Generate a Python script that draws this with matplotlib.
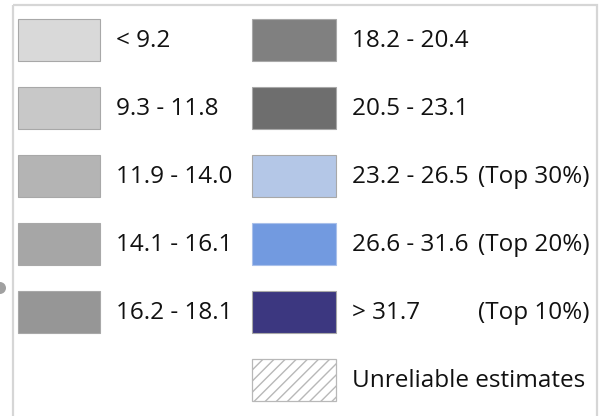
import matplotlib
matplotlib.use("Agg")
import matplotlib.pyplot as plt
from matplotlib.patches import Rectangle, Circle

# Legend data
left_labels = ["< 9.2", "9.3 - 11.8", "11.9 - 14.0", "14.1 - 16.1", "16.2 - 18.1"]
left_colors = ["#d9d9d9", "#c8c8c8", "#b4b4b4", "#a6a6a6", "#969696"]
right_labels = ["18.2 - 20.4", "20.5 - 23.1", "23.2 - 26.5", "26.6 - 31.6", "> 31.7"]
right_tags = ["", "", "(Top 30%)", "(Top 20%)", "(Top 10%)"]
right_colors = ["#808080", "#6e6e6e", "#b4c7e7", "#729ae0", "#3c3780"]
hatch_label = "Unreliable estimates"

W, H = 600, 416
fig = plt.figure(figsize=(W / 100, H / 100), dpi=100)
ax = fig.add_axes([0, 0, 1, 1])
ax.set_xlim(0, W)
ax.set_ylim(H, 0)
ax.axis("off")

FONT = "Open Sans"
FS = 17.5

# outer frame
ax.add_patch(Rectangle((13, 5), 584, 430, fill=False, edgecolor="#d6d6d6", lw=1.6, clip_on=True))
# small marker peeking at left edge
ax.add_patch(Circle((0, 288), 6, color="#a0a0a0", lw=0))

row0, step, sw_h = 19, 68, 42

def swatch(x, i, color, hatch=None):
    y = row0 + i * step
    if hatch:
        ax.add_patch(Rectangle((x, y), 84, sw_h, facecolor="white", edgecolor="#b8b8b8",
                               hatch=hatch, lw=0.9))
    else:
        ax.add_patch(Rectangle((x, y), 82 if x < 100 else 84, sw_h, facecolor=color,
                               edgecolor="#a8a8a8" if color != "#729ae0" else "#a9c0ea", lw=0.8))
    return y + sw_h / 2

for i, (lab, col) in enumerate(zip(left_labels, left_colors)):
    yc = swatch(18, i, col)
    ax.text(116, yc + 1, lab, fontsize=FS, family=FONT, va="center", ha="left", color="#111111")

for i, (lab, tag, col) in enumerate(zip(right_labels, right_tags, right_colors)):
    yc = swatch(252, i, col)
    ax.text(352, yc + 1, lab, fontsize=FS, family=FONT, va="center", ha="left", color="#111111")
    if tag:
        ax.text(478, yc + 1, tag, fontsize=FS, family=FONT, va="center", ha="left", color="#111111")

plt.rcParams["hatch.color"] = "#b8b8b8"
yc = swatch(252, 5, None, hatch="///")
ax.text(352, yc + 1, hatch_label, fontsize=FS, family=FONT, va="center", ha="left", color="#111111")

fig.savefig("out.png", dpi=100)
